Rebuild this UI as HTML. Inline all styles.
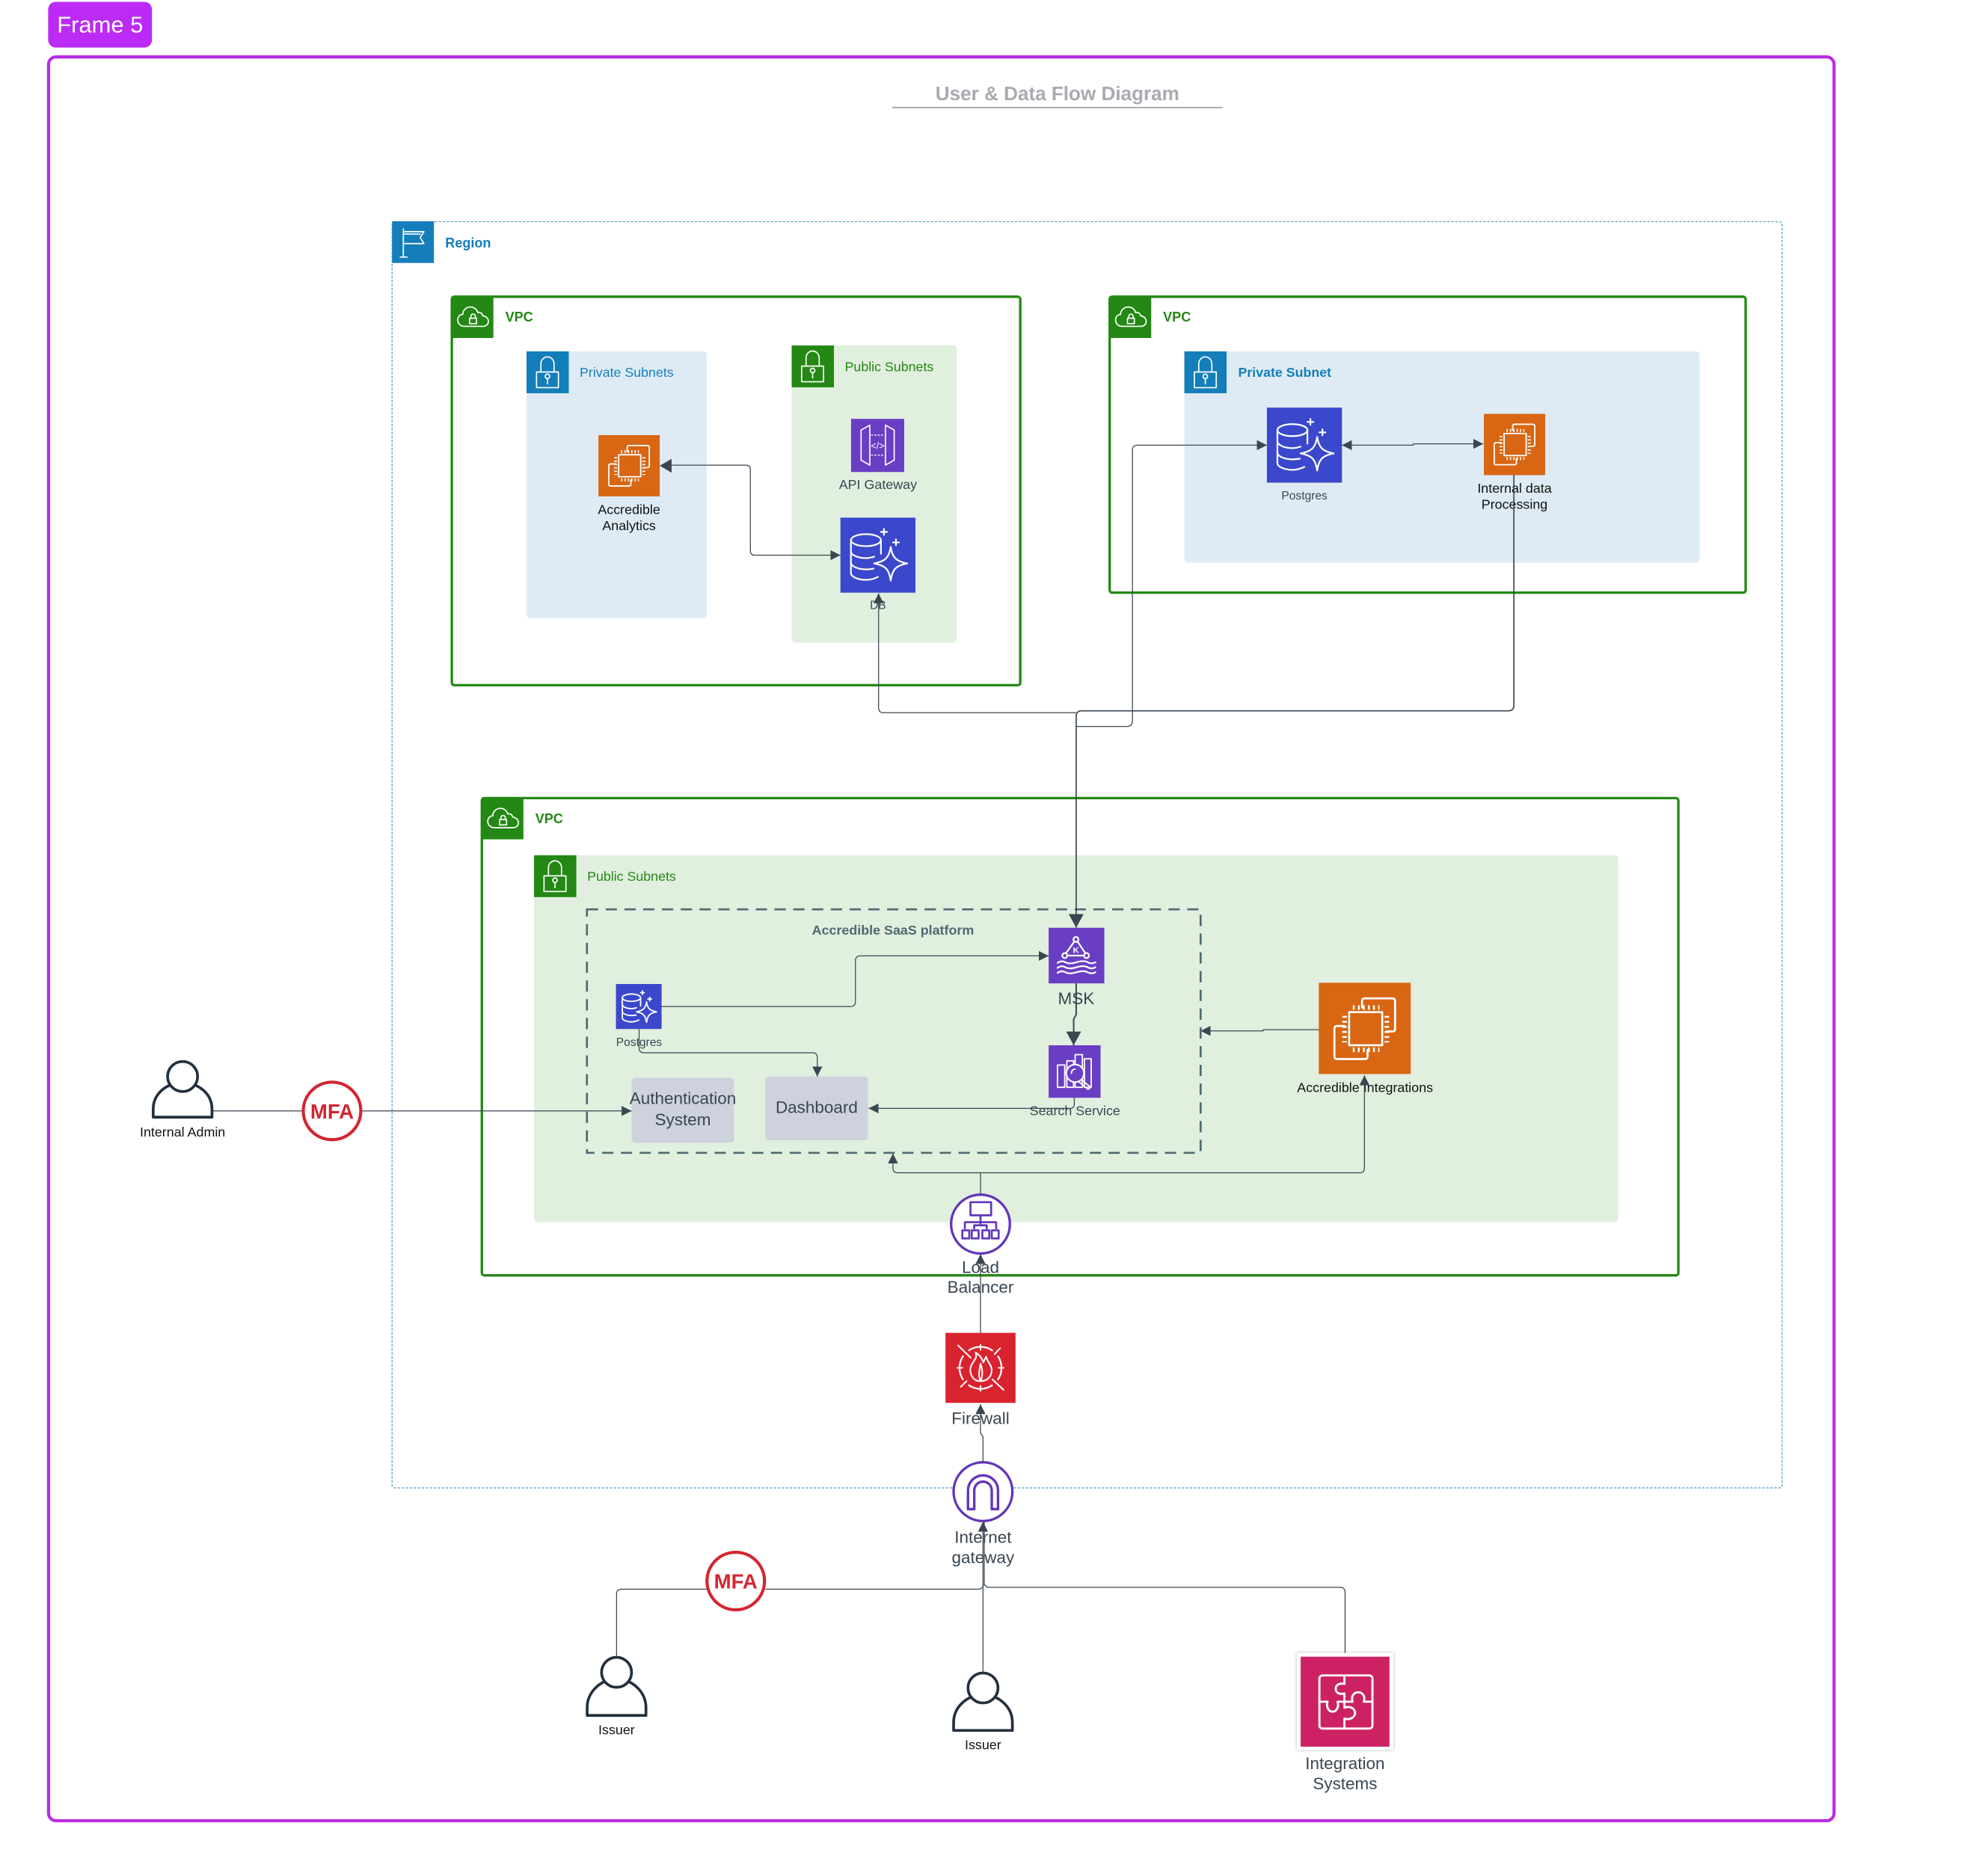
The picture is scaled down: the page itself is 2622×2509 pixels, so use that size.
<!DOCTYPE html>
<html><head><meta charset="utf-8"><title>User &amp; Data Flow Diagram</title>
<style>
html,body{margin:0;padding:0;background:#fff}
svg{display:block}
text{font-family:"Liberation Sans",sans-serif}
.w{fill:none;stroke:#fff;stroke-width:2.2;stroke-linejoin:round;stroke-linecap:round}
.w1{fill:none;stroke:#fff;stroke-width:1;stroke-linejoin:round;stroke-linecap:round}
.c{fill:none;stroke:#3a4650;stroke-width:.75;stroke-linejoin:round}
.m{text-anchor:middle}
.g{fill:#3a4650}
.k{fill:#111}
.p{fill:none;stroke:#232f3e;stroke-width:2.2;stroke-linejoin:round}
.h{fill:#fff;stroke:#232f3e;stroke-width:2.2}
.pu{fill:none;stroke:#6236b8;stroke-width:2;stroke-linejoin:round}
</style></head><body>
<svg xmlns="http://www.w3.org/2000/svg" width="2622" height="2509" viewBox="0 0 1568 1500.4">
<defs>
<marker id="a" markerUnits="userSpaceOnUse" markerWidth="10" markerHeight="10" refX="8" refY="4" orient="auto"><path d="M0 0L8 4L0 8z" fill="#3a4650"/></marker>
<marker id="as" markerUnits="userSpaceOnUse" markerWidth="10" markerHeight="10" refX="8" refY="4" orient="auto-start-reverse"><path d="M0 0L8 4L0 8z" fill="#3a4650"/></marker>
<marker id="ab" markerUnits="userSpaceOnUse" markerWidth="13" markerHeight="13" refX="11" refY="6" orient="auto"><path d="M0 0L11 6L0 12z" fill="#3a4650"/></marker>
<filter id="sh" x="-10%" y="-10%" width="120%" height="120%"><feDropShadow dx="0" dy="0" stdDeviation="1.2" flood-color="#000" flood-opacity=".3"/></filter>
</defs>
<rect width="1568" height="1500.4" fill="#fff"/>

<!-- Frame -->
<rect x="38.5" y="1.5" width="83" height="36.5" rx="6" fill="#bc2af5"/>
<text x="80" y="26" class="m" font-size="18.5" fill="#fff">Frame 5</text>
<rect x="38.8" y="45.5" width="1427.7" height="1410.7" rx="6" fill="#fff" stroke="#b92ce6" stroke-width="2.5"/>

<!-- Title -->
<text x="845.5" y="80" class="m" font-size="15.6" font-weight="bold" fill="#a7abb1">User &amp; Data Flow Diagram</text>
<path d="M713.5 86H977.5" stroke="#a7abb1" stroke-width="1.2"/>

<!-- Region -->
<rect x="313.5" y="177.3" width="1111.5" height="1012.7" rx="2" fill="none" stroke="#5ea5c8" stroke-width=".8" stroke-dasharray="2 1.2"/>
<rect x="313.5" y="177" width="33.5" height="33.3" fill="#147eba"/>
<g transform="translate(313.5,177)">
<path class="w1" d="M9 6V28.6M6.5 28.6H12M9 8.3H25.5L22.5 13L25.5 17.800H9M9 10.200H22.5"/>
</g>
<text x="356" y="198" font-size="10.8" font-weight="bold" fill="#147eba">Region</text>

<!-- VPC 1 -->
<rect x="361.3" y="237.3" width="454.5" height="310.7" rx="2" fill="#fff" stroke="#248814" stroke-width="2"/>
<rect x="361" y="237" width="33.5" height="33.3" fill="#248814"/>
<g transform="translate(361,237)">
<path class="w1" d="M10.5 24C6 24 5 20.5 5 19C5 16 7 14.5 9 14.5C9 11 12 8.5 15 8.5C18.5 8.5 20.5 11 21 13C22 12.5 24.5 13 25 15.5C28 16 29.5 18 29.5 20C29.5 22.5 27.5 24 25 24Z"/>
<rect class="w1" x="14.5" y="17.5" width="5.5" height="4.3"/><path class="w1" d="M15.5 17.5V16a1.8 1.8 0 0 1 3.6 0V17.5"/>
</g>
<text x="404" y="257" font-size="10.8" font-weight="bold" fill="#248814">VPC</text>

<rect x="421" y="281" width="144" height="213.5" rx="3" fill="#deebf4"/>
<rect x="421" y="281" width="33.8" height="33.5" fill="#147eba"/>
<g transform="translate(421,281)">
<rect class="w1" x="8" y="16.5" width="17.5" height="12.5"/><path class="w1" d="M11.5 16.5V10a5.2 5.5 0 0 1 10.5 0V16.5"/><circle class="w1" cx="16.75" cy="20" r="1.8"/><path class="w1" d="M16.75 21.8V26"/>
</g>
<text x="463.5" y="301.5" font-size="10.65" fill="#147eba">Private Subnets</text>

<rect x="633" y="276.3" width="132" height="237.7" rx="3" fill="#e1efdf"/>
<rect x="633" y="276.3" width="33.8" height="33.5" fill="#248814"/>
<g transform="translate(633,276.3)">
<rect class="w1" x="8" y="16.5" width="17.5" height="12.5"/><path class="w1" d="M11.5 16.5V10a5.2 5.5 0 0 1 10.5 0V16.5"/><circle class="w1" cx="16.75" cy="20" r="1.8"/><path class="w1" d="M16.75 21.8V26"/>
</g>
<text x="675.5" y="297" font-size="10.65" fill="#248814">Public Subnets</text>

<!-- Analytics EC2 -->
<rect x="478.5" y="348" width="49" height="49" fill="#d86613"/>
<g transform="translate(478.5,348) scale(.49)">
<rect class="w" x="33" y="32" width="36" height="36"/>
<path d="M37 27H66M37 73H66M28 36V65M74 36V65" fill="none" stroke="#fff" stroke-width="5" stroke-dasharray="2 3.5"/>
<path class="w" d="M47 27V20Q47 17 50 17H80Q83 17 83 20V50Q83 53 80 53H74M28 47H20Q17 47 17 50V80Q17 83 20 83H50Q53 83 53 80V73"/>
</g>
<text x="503" y="411" class="m k" font-size="10.7">Accredible</text>
<text x="503" y="424" class="m k" font-size="10.7">Analytics</text>

<!-- API Gateway -->
<rect x="680.5" y="335" width="42.5" height="42.5" fill="#6a3ec4"/>
<g transform="translate(680.5,335)">
<path class="w1" d="M8 9L15 5V37L8 33ZM34.5 9L27.5 5V37L34.5 33Z"/>
<path d="M16 13H26M16 29H26" stroke="#fff" stroke-width=".8" stroke-dasharray="1.5 1.2"/>
<text x="21.25" y="24" class="m" font-size="7.5" fill="#fff">&lt;/&gt;</text>
</g>
<text x="702" y="391" class="m g" font-size="10.7">API Gateway</text>

<!-- DB -->
<rect x="672" y="414" width="60" height="60" fill="#3b48cc"/>
<g transform="translate(672,414) scale(.6)">
<ellipse class="w" cx="34" cy="30" rx="20" ry="8"/>
<path class="w" d="M14 30V74C14 79 24 83 34 83C41 83 46 81 50 79M14 45C14 50 24 54 34 54C38 54 42 53 45 52M14 60C14 65 24 69 34 69C38 69 41 68.5 44 68M54 30V48"/>
<path class="w" d="M67 39C69 52 73 58 89 61C73 64 69 70 67 84C65 70 61 64 45 61C61 58 65 52 67 39Z"/>
<path class="w" d="M58 15V23M54 19H62M74 29V37M70 33H78"/>
</g>
<text x="702" y="487" class="m g" font-size="9.3">DB</text>

<!-- VPC 2 -->
<rect x="887.3" y="237.3" width="508.5" height="236.7" rx="2" fill="#fff" stroke="#248814" stroke-width="2"/>
<rect x="887" y="237" width="33.5" height="33.3" fill="#248814"/>
<g transform="translate(887,237)">
<path class="w1" d="M10.5 24C6 24 5 20.5 5 19C5 16 7 14.5 9 14.5C9 11 12 8.5 15 8.5C18.5 8.5 20.5 11 21 13C22 12.5 24.5 13 25 15.5C28 16 29.5 18 29.5 20C29.5 22.5 27.5 24 25 24Z"/>
<rect class="w1" x="14.5" y="17.5" width="5.5" height="4.3"/><path class="w1" d="M15.5 17.5V16a1.8 1.8 0 0 1 3.6 0V17.5"/>
</g>
<text x="930" y="257" font-size="10.8" font-weight="bold" fill="#248814">VPC</text>

<rect x="947" y="281" width="412" height="169" rx="3" fill="#deebf4"/>
<rect x="947" y="281" width="33.8" height="33.5" fill="#147eba"/>
<g transform="translate(947,281)">
<rect class="w1" x="8" y="16.5" width="17.5" height="12.5"/><path class="w1" d="M11.5 16.5V10a5.2 5.5 0 0 1 10.5 0V16.5"/><circle class="w1" cx="16.75" cy="20" r="1.8"/><path class="w1" d="M16.75 21.8V26"/>
</g>
<text x="990" y="301.5" font-size="10.65" font-weight="bold" fill="#147eba">Private Subnet</text>

<rect x="1013" y="326" width="60" height="60" fill="#3b48cc"/>
<g transform="translate(1013,326) scale(.6)">
<ellipse class="w" cx="34" cy="30" rx="20" ry="8"/>
<path class="w" d="M14 30V74C14 79 24 83 34 83C41 83 46 81 50 79M14 45C14 50 24 54 34 54C38 54 42 53 45 52M14 60C14 65 24 69 34 69C38 69 41 68.5 44 68M54 30V48"/>
<path class="w" d="M67 39C69 52 73 58 89 61C73 64 69 70 67 84C65 70 61 64 45 61C61 58 65 52 67 39Z"/>
<path class="w" d="M58 15V23M54 19H62M74 29V37M70 33H78"/>
</g>
<text x="1043" y="399.5" class="m g" font-size="9.3">Postgres</text>

<rect x="1186.5" y="331" width="49" height="49" fill="#d86613"/>
<g transform="translate(1186.5,331) scale(.49)">
<rect class="w" x="33" y="32" width="36" height="36"/>
<path d="M37 27H66M37 73H66M28 36V65M74 36V65" fill="none" stroke="#fff" stroke-width="5" stroke-dasharray="2 3.5"/>
<path class="w" d="M47 27V20Q47 17 50 17H80Q83 17 83 20V50Q83 53 80 53H74M28 47H20Q17 47 17 50V80Q17 83 20 83H50Q53 83 53 80V73"/>
</g>
<text x="1211" y="394" class="m k" font-size="10.7">Internal data</text>
<text x="1211" y="407" class="m k" font-size="10.7">Processing</text>

<!-- VPC 3 -->
<rect x="385.3" y="638.3" width="956.7" height="381.7" rx="2" fill="#fff" stroke="#248814" stroke-width="2"/>
<rect x="385" y="638" width="33.5" height="33.3" fill="#248814"/>
<g transform="translate(385,638)">
<path class="w1" d="M10.5 24C6 24 5 20.5 5 19C5 16 7 14.5 9 14.5C9 11 12 8.5 15 8.5C18.5 8.5 20.5 11 21 13C22 12.5 24.5 13 25 15.5C28 16 29.5 18 29.5 20C29.5 22.5 27.5 24 25 24Z"/>
<rect class="w1" x="14.5" y="17.5" width="5.5" height="4.3"/><path class="w1" d="M15.5 17.5V16a1.8 1.8 0 0 1 3.6 0V17.5"/>
</g>
<text x="428" y="658.5" font-size="10.8" font-weight="bold" fill="#248814">VPC</text>

<rect x="427" y="684" width="867" height="293.5" rx="3" fill="#e1efdf"/>
<rect x="427" y="684" width="33.8" height="33.500" fill="#248814"/>
<g transform="translate(427,684)">
<rect class="w1" x="8" y="16.5" width="17.5" height="12.5"/><path class="w1" d="M11.5 16.5V10a5.2 5.5 0 0 1 10.5 0V16.5"/><circle class="w1" cx="16.75" cy="20" r="1.8"/><path class="w1" d="M16.75 21.8V26"/>
</g>
<text x="469.5" y="704.5" font-size="10.65" fill="#248814">Public Subnets</text>

<!-- SaaS dashed -->
<rect x="469.3" y="727.3" width="490.7" height="194.7" fill="none" stroke="#4f6a70" stroke-width="1.6" stroke-dasharray="9 6"/>
<text x="714" y="747.5" class="m" font-size="10.7" font-weight="bold" fill="#4f6a70">Accredible SaaS platform</text>

<rect x="492.5" y="787" width="36.5" height="36" fill="#3b48cc"/>
<g transform="translate(492.5,787) scale(.365)">
<ellipse class="w" style="stroke-width:3" cx="34" cy="30" rx="20" ry="8"/>
<path class="w" style="stroke-width:3" d="M14 30V74C14 79 24 83 34 83C41 83 46 81 50 79M14 45C14 50 24 54 34 54C38 54 42 53 45 52M14 60C14 65 24 69 34 69C38 69 41 68.5 44 68M54 30V48"/>
<path class="w" style="stroke-width:3" d="M67 39C69 52 73 58 89 61C73 64 69 70 67 84C65 70 61 64 45 61C61 58 65 52 67 39Z"/>
<path class="w" style="stroke-width:3" d="M58 15V23M54 19H62M74 29V37M70 33H78"/>
</g>
<text x="511" y="836.5" class="m g" font-size="9.3">Postgres</text>

<rect x="505" y="862" width="82" height="52" rx="3" fill="#cdd2dc"/>
<text x="546" y="883" class="m g" font-size="13.45">Authentication</text>
<text x="546" y="900" class="m g" font-size="13.45">System</text>
<rect x="612" y="861" width="82" height="51" rx="3" fill="#cdd2dc"/>
<text x="653" y="890" class="m g" font-size="13.45">Dashboard</text>

<!-- MSK -->
<rect x="838.5" y="742" width="44.5" height="44.5" fill="#6a3ec4"/>
<g transform="translate(838.5,742) scale(.445)">
<path class="w" style="stroke-width:3" d="M46 25L31 46M52 25L66 46M33 50H64"/>
<circle class="w" style="stroke-width:3" cx="49" cy="21" r="4.5"/><circle class="w" style="stroke-width:3" cx="29" cy="50" r="4.5"/><circle class="w" style="stroke-width:3" cx="68" cy="50" r="4.5"/>
<text x="49" y="45" class="m" font-size="15" font-weight="bold" fill="#fff">K</text>
<path class="w" style="stroke-width:3" d="M16 63Q23 58 30 62T50 62T70 62T84 62M16 72Q23 67 30 71T50 71T70 71T84 71M16 81Q23 76 30 80T50 80T70 80T84 80"/>
</g>
<text x="860.5" y="803" class="m g" font-size="13.45">MSK</text>

<!-- Search -->
<rect x="838.5" y="836" width="41.5" height="42" fill="#6a3ec4"/>
<g transform="translate(838.5,836) scale(.415)">
<path class="w" style="stroke-width:2.6" d="M17 38H31V81H17ZM35 30H48V81H35ZM51 18H65V81H51ZM69 26H82V81H69Z"/>
<circle cx="51" cy="54" r="17" fill="#6a3ec4" stroke="#fff" stroke-width="3"/>
<path class="w" style="stroke-width:2.6" d="M44 54A7 7 0 0 1 51 46M63 66L81 81L76 85L59 71"/>
</g>
<text x="859.5" y="892" class="m g" font-size="10.7">Search Service</text>

<!-- Integrations EC2 -->
<rect x="1054.5" y="786" width="73.5" height="73" fill="#d86613"/>
<g transform="translate(1054.5,786) scale(.735)">
<rect class="w" x="33" y="32" width="36" height="36"/>
<path d="M37 27H66M37 73H66M28 36V65M74 36V65" fill="none" stroke="#fff" stroke-width="5" stroke-dasharray="2 3.5"/>
<path class="w" d="M47 27V20Q47 17 50 17H80Q83 17 83 20V50Q83 53 80 53H74M28 47H20Q17 47 17 50V80Q17 83 20 83H50Q53 83 53 80V73"/>
</g>
<text x="1091.5" y="873.5" class="m k" font-size="10.7">Accredible Integrations</text>

<!-- Load balancer -->
<circle cx="784" cy="979" r="23.5" fill="#fff" stroke="#6236b8" stroke-width="2"/>
<g class="pu" style="stroke-width:1.6">
<rect x="776" y="961.5" width="16.5" height="10.5"/>
<path d="M784 972V977M771.5 983V977.5H796.5V983M779 983V980H789V983M784 977V980"/>
<rect x="769.5" y="984" width="5.5" height="6.5"/><rect x="777" y="984" width="5.5" height="6.5"/><rect x="785.5" y="984" width="5.5" height="6.5"/><rect x="793" y="984" width="5.5" height="6.5"/>
</g>
<text x="784" y="1018" class="m g" font-size="13.45">Load</text>
<text x="784" y="1034" class="m g" font-size="13.45">Balancer</text>

<!-- Firewall -->
<rect x="756" y="1066" width="56" height="56" fill="#d9232f"/>
<g transform="translate(756,1066) scale(.56)">
<circle cx="50" cy="50" r="30" fill="none" stroke="#fff" stroke-width="2.4" stroke-dasharray="37.1 10" stroke-dashoffset="18.5"/>
<path class="w" d="M50 17V24M50 76V83M17 50H24M76 50H83M18 18L36 35.5M67 66.500L83 81.500M78 22L70 30.500M30 69L22 77"/>
<path class="w" d="M43 28C46 35 41 39 37 46C33 55 37 69 50 69C60 69 66 62 66 53C66 46 60 42 58 34C56 38 55 40 54 42C52 36 48 31 43 28ZM50 69C46 60 49 52 50 44C53 52 54 60 50 69"/>
</g>
<text x="784" y="1139" class="m g" font-size="13.45">Firewall</text>

<!-- Internet gateway -->
<circle cx="786" cy="1193" r="23.500" fill="#fff" stroke="#6236b8" stroke-width="2"/>
<path class="pu" d="M774 1207V1192a12 12 0 0 1 24 0V1207H793V1192a7 7 0 0 0 -14 0V1207Z"/>
<text x="786" y="1234" class="m g" font-size="13.45">Internet</text>
<text x="786" y="1250" class="m g" font-size="13.45">gateway</text>

<!-- Persons -->
<g>
<path class="p" d="M122.500 893.500V887C122.500 875 133 866 146 866C159 866 169.500 875 169.500 887V893.500Z"/>
<ellipse class="h" cx="146" cy="861" rx="12" ry="12"/>
<text x="146" y="909" class="m k" font-size="10.7">Internal Admin</text>
</g>
<g>
<path class="p" d="M469.500 1372V1365.500C469.500 1353.500 480 1343 493 1343C506 1343 516.500 1353.500 516.500 1365.500V1372Z"/>
<ellipse class="h" cx="493" cy="1337.500" rx="12" ry="12"/>
<text x="493" y="1387" class="m k" font-size="10.7">Issuer</text>
</g>
<g>
<path class="p" d="M762.500 1384V1377.500C762.500 1365.500 773 1355.500 786 1355.500C799 1355.500 809.500 1365.500 809.500 1377.500V1384Z"/>
<ellipse class="h" cx="786" cy="1350" rx="12" ry="12"/>
<text x="786" y="1399" class="m k" font-size="10.7">Issuer</text>
</g>

<!-- Integration systems -->
<rect x="1037" y="1322" width="77" height="77.500" fill="#fff" filter="url(#sh)"/>
<rect x="1040" y="1325" width="71" height="72" fill="#cc2264"/>
<g class="w" style="stroke-width:1.700">
<rect x="1055" y="1340" width="42.400" height="42.500" rx="2.500"/>
<path d="M1075 1340V1346.800C1069.500 1345.500 1068 1349 1068 1350.600C1068 1352.500 1069.500 1355.800 1075 1354.400V1365.800C1080 1364 1083.500 1367 1083.500 1370C1083.500 1373 1080 1376 1075 1374.500V1382.500"/>
<path d="M1055 1361H1061.500C1060 1366 1063 1369 1065.500 1369C1068 1369 1071 1366 1069.500 1361H1081.500C1080 1356 1083 1353.500 1086 1353.500C1089 1353.500 1092 1356 1090.500 1361H1097.400"/>
</g>
<text x="1075.500" y="1415" class="m g" font-size="13.45">Integration</text>
<text x="1075.500" y="1431" class="m g" font-size="13.45">Systems</text>

<!-- Connectors -->
<path class="c" d="M536 372H596.500Q600 372 600 375.500V440.500Q600 444 603.500 444H672" marker-end="url(#a)"/>
<path d="M527.500 372.500L537 367V378Z" fill="#3a4650"/>
<path class="c" d="M860.500 570H706.500Q702.500 570 702.500 566V474.500" marker-end="url(#a)"/>
<path class="c" d="M860.500 581H901Q905.500 581 905.500 576.500V360Q905.500 356 909.500 356H1013" marker-end="url(#a)"/>
<path class="c" style="stroke-width:1" d="M1210.500 380V564Q1210.500 568.500 1206 568.500H865Q860.500 568.500 860.500 573V742" marker-end="url(#ab)"/>
<path class="c" d="M1073 356H1130V355H1186" marker-end="url(#a)" marker-start="url(#as)"/>

<path class="c" d="M529 805H680Q684 805 684 801V768.500Q684 764.500 688 764.500H838.500" marker-end="url(#a)"/>
<path class="c" d="M511 823V838Q511 842 515 842H650Q653.500 842 653.500 846V861" marker-end="url(#a)"/>
<path class="c" d="M859 878V883Q859 886.500 855 886.500H694.500" marker-end="url(#a)"/>
<path class="c" style="stroke-width:1.200" d="M860.500 786.500V811.500L858.500 815V836" marker-end="url(#ab)"/>
<path class="c" d="M1054.500 823.500H1010V824.500H960" marker-end="url(#a)"/>

<path class="c" d="M784 955.500V938H718Q714 938 714 934V922.500" marker-end="url(#a)"/>
<path class="c" d="M784 938H1087Q1091 938 1091 934V860" marker-end="url(#a)"/>
<path class="c" d="M784 1066V1003" marker-end="url(#a)"/>
<path class="c" d="M786 1169.500V1149L784 1146V1123" marker-end="url(#a)"/>
<path class="c" d="M786 1337.500V1217" marker-end="url(#a)"/>
<path class="c" d="M493 1325V1275Q493 1271 497 1271H565M612 1271H782Q786 1271 786.500 1267"/>
<path class="c" d="M1075.500 1322V1273.500Q1075.500 1269.500 1071.500 1269.500H791Q787 1269.500 787 1265.500V1217"/>
<path class="c" d="M170.500 888.500H242M289 888.500H505" marker-end="url(#a)"/>

<!-- MFA -->
<circle cx="265.500" cy="888.500" r="23" fill="#fff" stroke="#d32531" stroke-width="2.500"/>
<text x="265.500" y="894.500" class="m" font-size="16.500" font-weight="bold" fill="#d32531">MFA</text>
<circle cx="588.300" cy="1264.500" r="23" fill="#fff" stroke="#d32531" stroke-width="2.500"/>
<text x="588.300" y="1270.500" class="m" font-size="16.500" font-weight="bold" fill="#d32531">MFA</text>
</svg>
</body></html>
